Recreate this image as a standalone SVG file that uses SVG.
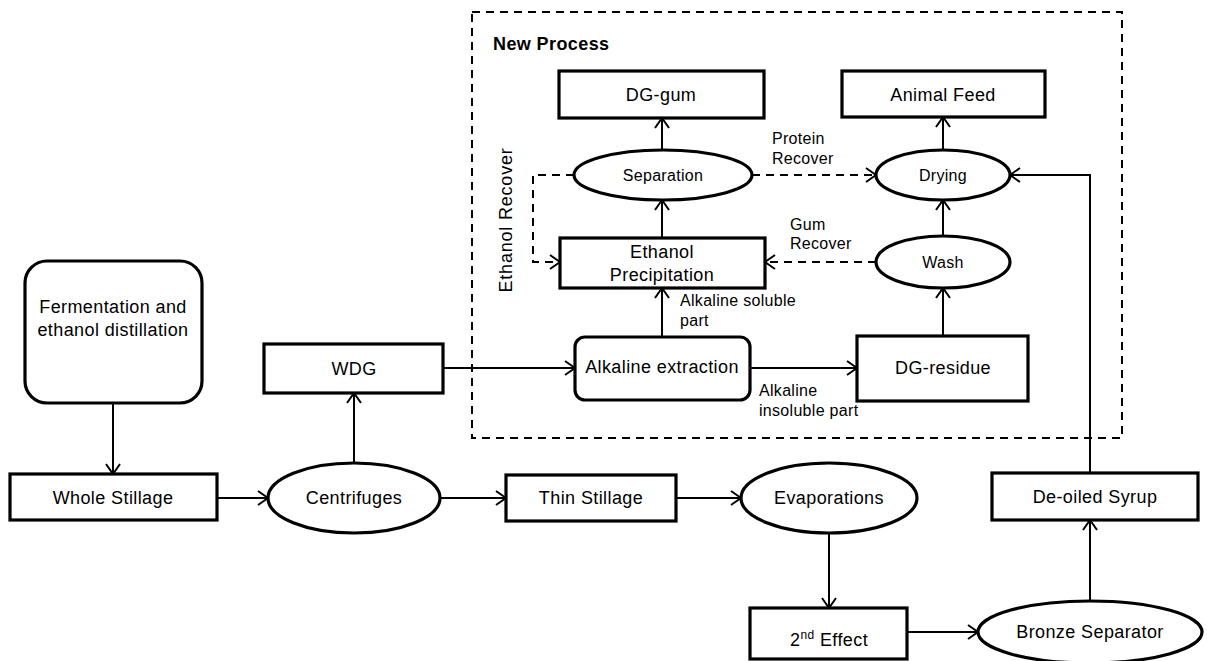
<svg xmlns="http://www.w3.org/2000/svg" width="1207" height="661" viewBox="0 0 1207 661">
  <defs>
    <marker id="open" viewBox="0 0 12 16" refX="11" refY="8" markerWidth="12" markerHeight="16" markerUnits="userSpaceOnUse" orient="auto">
      <path d="M1,1 L11,8 L1,15" fill="none" stroke="#000" stroke-width="2"/>
    </marker>
  </defs>
  <style>
    .box { fill: #fff; stroke: #000; stroke-width: 3.2; }
    .lbl { font-family: "Liberation Sans", Arial, sans-serif; font-size: 18px; letter-spacing: 0.4px; fill: #000; text-anchor: middle; }
    .sm { font-family: "Liberation Sans", Arial, sans-serif; font-size: 16px; letter-spacing: 0.3px; fill: #000; }
    .mid { text-anchor: middle; }
    .conn { fill: none; stroke: #000; stroke-width: 2; marker-end: url(#open); }
    .dash { fill: none; stroke: #000; stroke-width: 2; stroke-dasharray: 8 6; marker-end: url(#open); }
    .frame { fill: none; stroke: #000; stroke-width: 2; stroke-dasharray: 8 6; }
    .title { font-family: "Liberation Sans", Arial, sans-serif; font-size: 18px; font-weight: bold; letter-spacing: 0.4px; fill: #000; }
    .vert { font-family: "Liberation Sans", Arial, sans-serif; font-size: 18px; letter-spacing: 0.8px; fill: #000; text-anchor: middle; }
  </style>
  <rect width="1207" height="661" fill="#fff"/>

  <!-- boundary of the new process section -->
  <g id="new-process">
    <rect class="frame" x="472" y="12" width="650" height="426"/>
    <text class="title" x="493" y="50">New Process</text>
    <text class="vert" transform="translate(512,220) rotate(-90)">Ethanol Recover</text>
  </g>

  <!-- connectors -->
  <g id="connectors">
    <path class="conn" d="M113,403 V474"/>
    <path class="conn" d="M217,498 H268"/>
    <path class="conn" d="M439,498 H506"/>
    <path class="conn" d="M354,463 V393"/>
    <path class="conn" d="M676,498 H741"/>
    <path class="conn" d="M829,533 V608"/>
    <path class="conn" d="M907,632 H978"/>
    <path class="conn" d="M1090,602 V520"/>
    <path class="conn" d="M1090,473 V175 H1010"/>
    <path class="conn" d="M443,368 H575"/>
    <path class="conn" d="M750,368 H857"/>
    <path class="conn" d="M662,337 V288"/>
    <path class="conn" d="M662,238 V200"/>
    <path class="conn" d="M662,150 V118"/>
    <path class="conn" d="M943,336 V288"/>
    <path class="conn" d="M943,236 V200"/>
    <path class="conn" d="M943,150 V117"/>
    <path class="dash" d="M752,175 H876"/>
    <path class="dash" d="M574,175 H533 V262 H560"/>
    <path class="dash" d="M876,262 H765"/>
    <text class="sm" x="772" y="144">Protein</text>
    <text class="sm" x="772" y="164">Recover</text>
    <text class="sm" x="790" y="230">Gum</text>
    <text class="sm" x="790" y="249">Recover</text>
    <text class="sm" x="680" y="306">Alkaline soluble</text>
    <text class="sm" x="680" y="326">part</text>
    <text class="sm" x="759" y="396">Alkaline</text>
    <text class="sm" x="759" y="416">insoluble part</text>
  </g>

  <g id="fermentation">
    <rect class="box" x="25" y="261" width="177" height="142" rx="22"/>
    <text class="lbl" x="113" y="313">Fermentation and</text>
    <text class="lbl" x="113" y="336">ethanol distillation</text>
  </g>
  <g id="whole-stillage">
    <rect class="box" x="10" y="474" width="207" height="46"/>
    <text class="lbl" x="113" y="504">Whole Stillage</text>
  </g>
  <g id="centrifuges">
    <ellipse class="box" cx="354" cy="498" rx="86" ry="35"/>
    <text class="lbl" x="354" y="504">Centrifuges</text>
  </g>
  <g id="wdg">
    <rect class="box" x="264" y="344" width="179" height="49"/>
    <text class="lbl" x="354" y="375">WDG</text>
  </g>
  <g id="thin-stillage">
    <rect class="box" x="506" y="475" width="170" height="46"/>
    <text class="lbl" x="591" y="504">Thin Stillage</text>
  </g>
  <g id="evaporations">
    <ellipse class="box" cx="829" cy="498" rx="88" ry="35"/>
    <text class="lbl" x="829" y="504">Evaporations</text>
  </g>
  <g id="second-effect">
    <rect class="box" x="750" y="608" width="157" height="51"/>
    <text class="lbl" x="829" y="646">2<tspan font-size="12" dy="-7">nd</tspan><tspan dy="7"> Effect</tspan></text>
  </g>
  <g id="bronze-separator">
    <ellipse class="box" cx="1090" cy="632" rx="112" ry="31"/>
    <text class="lbl" x="1090" y="638">Bronze Separator</text>
  </g>
  <g id="deoiled-syrup">
    <rect class="box" x="992" y="473" width="206" height="47"/>
    <text class="lbl" x="1095" y="503">De-oiled Syrup</text>
  </g>
  <g id="alkaline-extraction">
    <rect class="box" x="575" y="337" width="175" height="63" rx="10"/>
    <text class="lbl" x="662" y="373">Alkaline extraction</text>
  </g>
  <g id="dg-residue">
    <rect class="box" x="857" y="336" width="171" height="65"/>
    <text class="lbl" x="943" y="374">DG-residue</text>
  </g>
  <g id="ethanol-precipitation">
    <rect class="box" x="560" y="238" width="205" height="50"/>
    <text class="lbl" x="662" y="258">Ethanol</text>
    <text class="lbl" x="662" y="281">Precipitation</text>
  </g>
  <g id="wash">
    <ellipse class="box" cx="943" cy="262" rx="67" ry="26"/>
    <text class="sm mid" x="943" y="268">Wash</text>
  </g>
  <g id="separation">
    <ellipse class="box" cx="663" cy="175" rx="89" ry="25"/>
    <text class="sm mid" x="663" y="181">Separation</text>
  </g>
  <g id="drying">
    <ellipse class="box" cx="943" cy="175" rx="67" ry="25"/>
    <text class="sm mid" x="943" y="181">Drying</text>
  </g>
  <g id="dg-gum">
    <rect class="box" x="559" y="71" width="205" height="47"/>
    <text class="lbl" x="661" y="101">DG-gum</text>
  </g>
  <g id="animal-feed">
    <rect class="box" x="842" y="71" width="203" height="46"/>
    <text class="lbl" x="943" y="101">Animal Feed</text>
  </g>
</svg>
